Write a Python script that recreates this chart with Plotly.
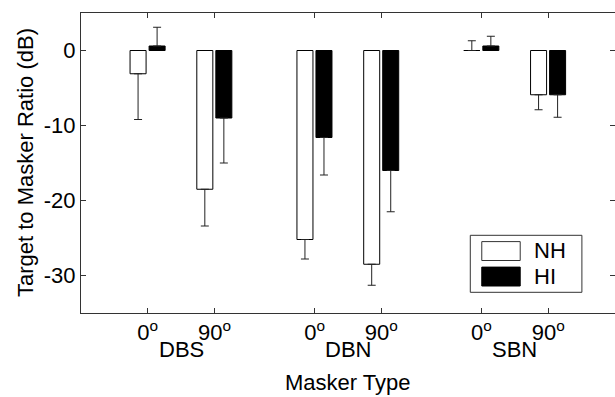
import plotly.graph_objects as go

# ---- data ----
positions = [1, 2, 3.5, 4.5, 6, 7]
tick_labels = ["0<sup>o</sup>", "90<sup>o</sup>", "0<sup>o</sup>", "90<sup>o</sup>", "0<sup>o</sup>", "90<sup>o</sup>"]
group_labels = ["DBS", "DBN", "SBN"]
group_centers = [1.5, 4.0, 6.5]
y_ticks = [0, -10, -20, -30]
nh_values = [-3.1, -18.5, -25.2, -28.5, 0.0, -5.9]
nh_err = [6.1, 4.9, 2.6, 2.8, 1.3, 2.0]
hi_values = [0.6, -9.0, -11.6, -16.0, 0.6, -5.9]
hi_err = [2.5, 6.0, 5.0, 5.5, 1.3, 3.0]

FONT = "Arial, Liberation Sans, sans-serif"
FS = 22


def err_dirs(vals, errs):
    up = [e if v >= 0 else 0 for v, e in zip(vals, errs)]
    down = [e if v < 0 else 0 for v, e in zip(vals, errs)]
    return up, down


nh_up, nh_down = err_dirs(nh_values, nh_err)
hi_up, hi_down = err_dirs(hi_values, hi_err)

fig = go.Figure()
fig.add_trace(go.Bar(
    x=positions, y=nh_values, name="NH", width=0.24, offset=-0.265,
    marker=dict(color="white", line=dict(color="black", width=1)),
    error_y=dict(type="data", symmetric=False, array=nh_up, arrayminus=nh_down,
                 color="#222", thickness=1, width=4),
    showlegend=False,
))
fig.add_trace(go.Bar(
    x=positions, y=hi_values, name="HI", width=0.24, offset=0.02,
    marker=dict(color="black", line=dict(color="black", width=1)),
    error_y=dict(type="data", symmetric=False, array=hi_up, arrayminus=hi_down,
                 color="#222", thickness=1, width=4),
    showlegend=False,
))

tfont = dict(family=FONT, size=FS, color="black")
axis_common = dict(showline=True, linecolor="#333", linewidth=1, mirror="ticks",
                   ticks="inside", ticklen=5, tickcolor="#333", showgrid=False,
                   zeroline=False, automargin=False, tickfont=tfont)

fig.update_xaxes(range=[0, 8], tickvals=positions, ticktext=tick_labels, **axis_common)
fig.update_yaxes(range=[-35, 5], tickvals=y_ticks,
                 ticktext=[str(v) for v in y_ticks], **axis_common)

annotations = []
for lab, c in zip(group_labels, group_centers):
    annotations.append(dict(x=c, y=0, xref="x", yref="paper", text=lab, showarrow=False,
                            yshift=-36, yanchor="middle", font=tfont))
annotations.append(dict(x=0.5, y=0, xref="paper", yref="paper", text="Masker Type",
                        showarrow=False, yshift=-69, yanchor="middle", font=tfont))
annotations.append(dict(x=0, y=0.5, xref="paper", yref="paper",
                        text="Target to Masker Ratio (dB)", textangle=-90,
                        showarrow=False, xshift=-56, xanchor="center", yanchor="middle",
                        font=tfont))

# manual legend
shapes = [
    dict(type="rect", xref="paper", yref="paper", x0=0.729, x1=0.938, y0=0.069, y1=0.259,
         line=dict(color="#333", width=1), fillcolor="white"),
    dict(type="rect", xref="paper", yref="paper", x0=0.7505, x1=0.8225, y0=0.175, y1=0.238,
         line=dict(color="#333", width=1), fillcolor="white"),
    dict(type="rect", xref="paper", yref="paper", x0=0.7505, x1=0.8225, y0=0.09, y1=0.153,
         line=dict(color="black", width=1), fillcolor="black"),
]
annotations.append(dict(x=0.845, y=0.207, xref="paper", yref="paper", text="NH",
                        showarrow=False, xanchor="left", yanchor="middle", font=tfont))
annotations.append(dict(x=0.845, y=0.122, xref="paper", yref="paper", text="HI",
                        showarrow=False, xanchor="left", yanchor="middle", font=tfont))

fig.update_layout(
    width=615, height=397,
    margin=dict(l=81, r=0, t=13, b=84),
    plot_bgcolor="white", paper_bgcolor="white",
    barmode="overlay",
    annotations=annotations, shapes=shapes,
    font=tfont,
)

fig.write_html("out.html", config={"displayModeBar": False},
               post_script="document.body.style.margin='0';document.body.style.overflow='hidden';")
